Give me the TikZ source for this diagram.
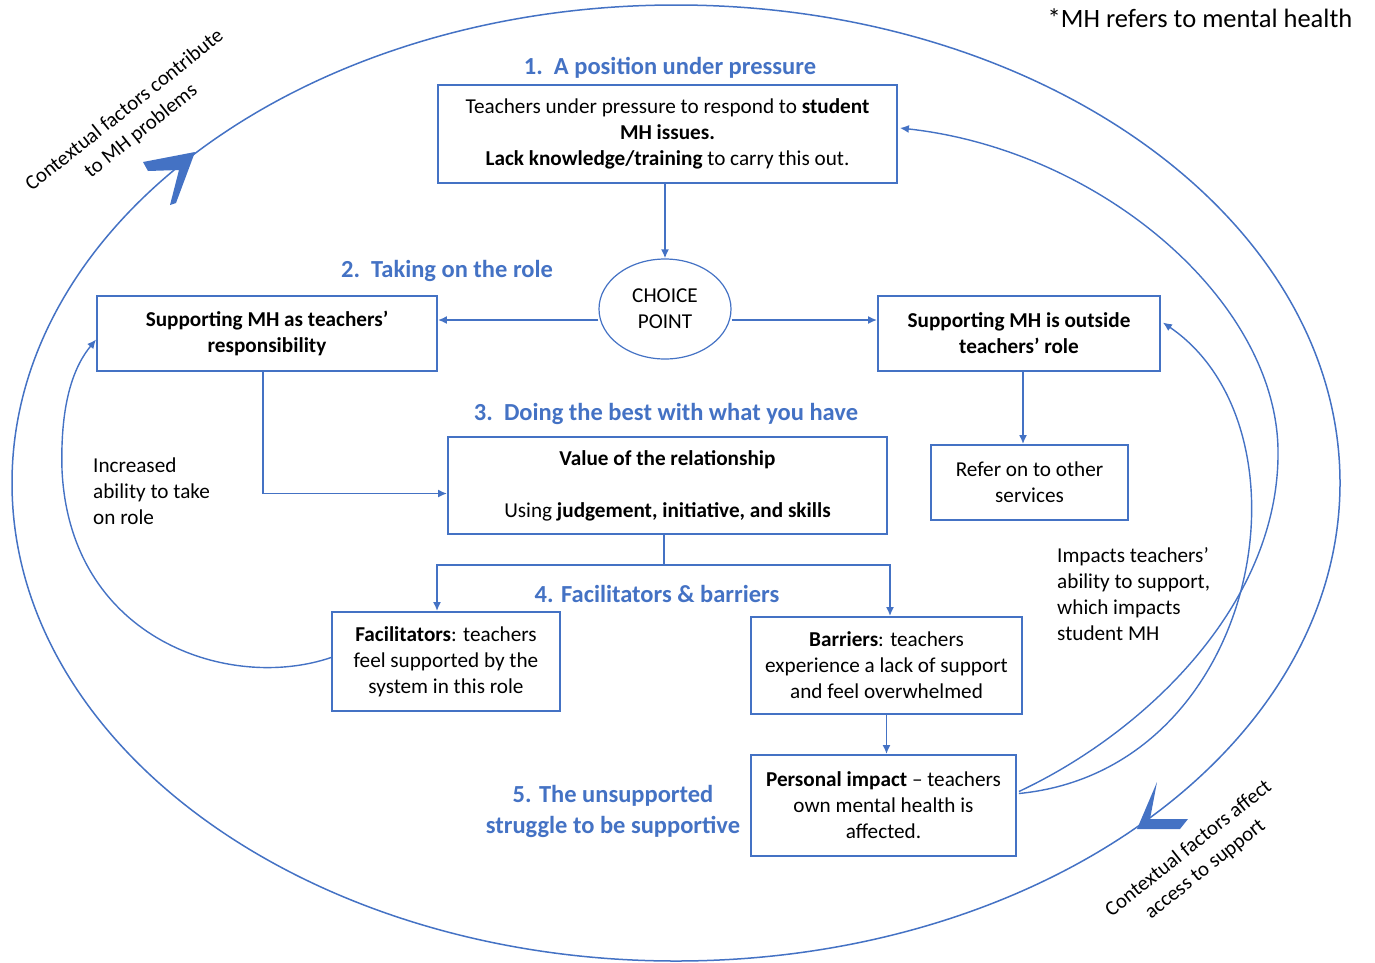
\documentclass[tikz,border=0pt]{standalone}
\usepackage{fontspec}
\setmainfont{Carlito}
\usetikzlibrary{arrows.meta,calc,shapes.geometric}
\definecolor{mblue}{RGB}{68,114,196}
\begin{document}
\begin{tikzpicture}[x=1pt,y=-1pt,
  box/.style={draw=mblue, line width=1.8pt, align=center, inner sep=0pt, font=\fontsize{21.2}{26}\selectfont},
  hdr/.style={text=mblue, font=\fontsize{24.5}{31}\selectfont\bfseries, align=center, inner sep=0pt},
  plaintext/.style={font=\fontsize{21.2}{26}\selectfont, align=left, inner sep=0pt},
  side/.style={font=\fontsize{20.8}{26.5}\selectfont, align=center, inner sep=0pt, rotate=38.5},
  line/.style={draw=mblue, line width=1.8pt},
  conn/.style={draw=mblue, line width=1.8pt, -{Latex[length=9pt,width=8pt]}},
  loopc/.style={draw=mblue, line width=1.4pt, -{Latex[length=9pt,width=8pt]}},
  chev/.style={fill=mblue},
]
\useasboundingbox (0,0) rectangle (1375,962);

% outer cycle
\draw[mblue, line width=1.5pt] (676,483) ellipse [x radius=664pt, y radius=478pt];
\fill[chev] (195,152) -- (143,162) -- (148,171) -- (179,170) -- (170,205) -- (176,203) -- cycle;
\fill[chev] (1137,829) -- (1157,782) -- (1150,819) -- (1188,819) -- (1180,829) -- cycle;

\node[side] (ctx1) at (133,121) {Contextual factors contribute\\to MH problems};
\node[side] (ctx2) at (1197,859) {Contextual factors affect\\access to support};

\node[font=\fontsize{26.5}{30}\selectfont, inner sep=0pt] (note) at (1200,18) {*MH refers to mental health};

% headers
\node[hdr] (h1) at (670,68) {1.\ \ A position under pressure};
\node[hdr] (h2) at (447,271) {2.\ \ Taking on the role};
\node[hdr] (h3) at (666,414) {3.\ \ Doing the best with what you have};
\node[hdr] (h4) at (657,594) {4. Facilitators \& barriers};
\node[hdr] (h5) at (613,811) {5. The unsupported\\struggle to be supportive};

% boxes
\node[box, minimum width=459pt, minimum height=98pt] (B1) at (667.5,134)
  {Teachers under pressure to respond to \textbf{student}\\\textbf{MH issues.}\\\textbf{Lack knowledge/training} to carry this out.};
\node[draw=mblue, line width=1.2pt, ellipse, minimum width=132pt, minimum height=100pt, inner sep=0pt,
  align=center, font=\fontsize{21.2}{26}\selectfont] (choice) at (665,309) {CHOICE\\POINT};
\node[box, minimum width=340pt, minimum height=75pt] (B2L) at (267,333.5)
  {\textbf{Supporting MH as teachers’}\\\textbf{responsibility}};
\node[box, minimum width=282pt, minimum height=75pt] (B2R) at (1019,333.5)
  {\textbf{Supporting MH is outside}\\\textbf{teachers’ role}};
\node[box, minimum width=197pt, minimum height=75pt] (Refer) at (1029.5,482.5)
  {Refer on to other\\services};
\node[box, minimum width=439pt, minimum height=97pt] (B3) at (667.5,485.5)
  {\textbf{Value of the relationship}\\[26pt]Using \textbf{judgement, initiative, and skills}};
\node[box, minimum width=228pt, minimum height=99pt] (Fac) at (446,661.5)
  {\textbf{Facilitators}: teachers\\feel supported by the\\system in this role};
\node[box, minimum width=271pt, minimum height=97pt] (Bar) at (886.5,665.5)
  {\textbf{Barriers}: teachers\\experience a lack of support\\and feel overwhelmed};
\node[box, minimum width=265pt, minimum height=101pt] (PI) at (883.5,805.5)
  {\textbf{Personal impact} – teachers\\own mental health is\\affected.};

% free texts
\node[plaintext, anchor=north west] (inc) at (93,458) {Increased\\ability to take\\on role};
\node[plaintext, anchor=north west] (imp) at (1057,547) {Impacts teachers’\\ability to support,\\which impacts\\student MH};

% connectors
\draw[conn] (B1.south -| choice.north) -- (choice.north);
\draw[conn] ($(choice.west)+(0,11)$) -- ($(B2L.east)+(0,-13.5)$);
\draw[conn] ($(choice.east)+(0,11)$) -- ($(B2R.west)+(0,-13.5)$);
\draw[conn] ($(B2R.south)+(4,0)$) -- ($(Refer.north)+(-6.5,0)$);
\draw[conn] ($(B2L.south)+(-4,0)$) |- ($(B3.west)+(0,8)$);
\coordinate (split) at (664,565);
\draw[line] (B3.south -| split) -- (split);
\draw[conn] (split) -| ($(Fac.north)+(-9,0)$);
\draw[conn] (split) -| ($(Bar.north)+(3.5,0)$);
\draw[conn] (Bar.south) -- (PI.north -| Bar.south);

% feedback loops
\draw[loopc] ($(Fac.west)+(0,-4)$) .. controls (230,692) and (70,640) .. (62,470)
  .. controls (60,400) and (75,365) .. ($(B2L.west)+(0,6)$);
\draw[loopc] ($(PI.east)+(2,-14)$) .. controls (1150,730) and (1280,600) .. (1278,450)
  .. controls (1276,300) and (1100,150) .. ($(B1.east)+(2,-6)$);
\draw[loopc] ($(PI.east)+(2,-12)$) .. controls (1260,770) and (1320,430) .. ($(B2R.east)+(2,-11)$);
\end{tikzpicture}
\end{document}
